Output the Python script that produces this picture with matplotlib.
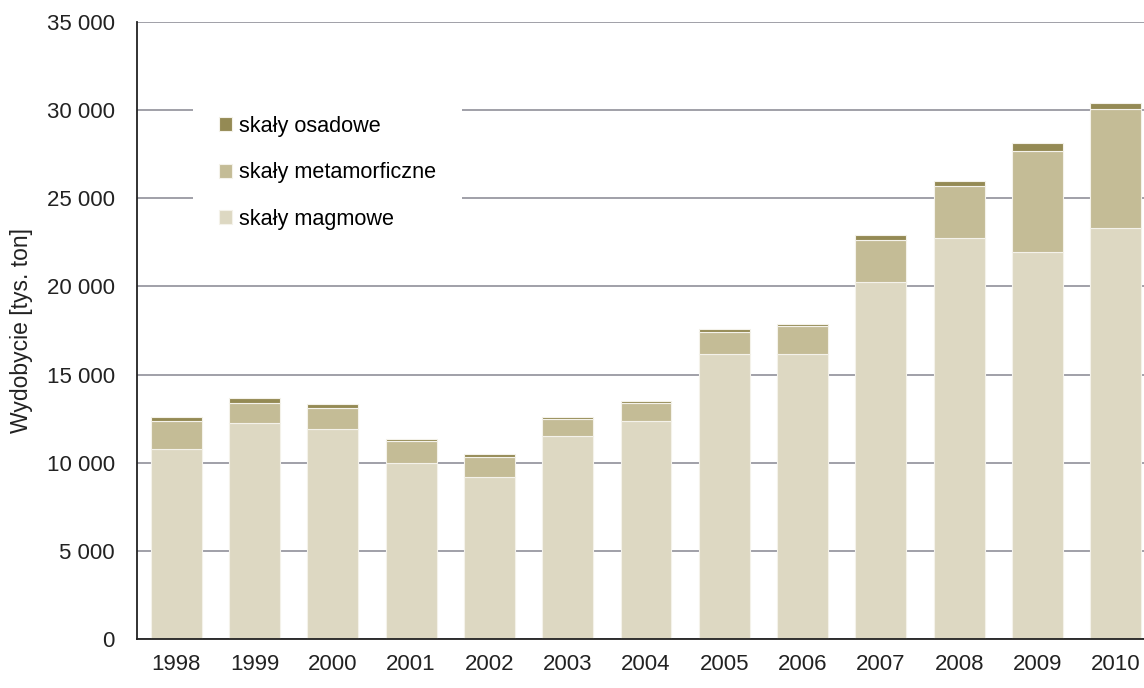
import numpy as np
import matplotlib
matplotlib.use('Agg')
from matplotlib import pyplot as plt
from matplotlib.ticker import FuncFormatter

plt.rcParams['font.family'] = ['Liberation Sans', 'DejaVu Sans']

years = ['1998', '1999', '2000', '2001', '2002', '2003', '2004',
         '2005', '2006', '2007', '2008', '2009', '2010']
magmowe = [10760, 12240, 11910, 9970, 9190, 11520, 12380,
           16190, 16190, 20250, 22750, 21950, 23320]
metamorficzne = [1600, 1150, 1210, 1260, 1140, 980, 1020,
                 1250, 1570, 2400, 2950, 5730, 6730]
osadowe = [230, 280, 210, 110, 160, 110, 115,
           130, 110, 250, 270, 440, 380]

c_mag = '#ddd8c2'
c_met = '#c4bc96'
c_osa = '#948a54'

fig = plt.figure(figsize=(11.44, 6.88), dpi=100)
ax = fig.add_axes([0.1198, 0.0712, 0.8898, 0.8968])

x = np.arange(len(years))
mag = np.array(magmowe)
met = np.array(metamorficzne)
osa = np.array(osadowe)
w = 0.65
b1 = ax.bar(x, mag, w, color=c_mag, edgecolor='#f4f2ea', linewidth=0.8, zorder=3,
            label='skały magmowe')
b2 = ax.bar(x, met, w, bottom=mag, color=c_met, edgecolor='#f4f2ea', linewidth=0.8,
            zorder=3, label='skały metamorficzne')
b3 = ax.bar(x, osa, w, bottom=mag + met, color=c_osa, edgecolor='#f4f2ea', linewidth=0.8,
            zorder=3, label='skały osadowe')

ax.set_xlim(-0.5, len(years) - 0.5)
ax.set_ylim(0, 35000)
ax.set_yticks(range(0, 35001, 5000))
ax.yaxis.set_major_formatter(FuncFormatter(lambda v, p: f'{int(v):,}'.replace(',', ' ')))
ax.set_xticks(x)
ax.set_xticklabels(years)
ax.tick_params(axis='both', length=0, labelsize=16, colors='#222222')
ax.tick_params(axis='y', pad=16)
ax.tick_params(axis='x', pad=11)

ax.grid(axis='y', color='#a0a0a8', linewidth=1.4, zorder=0)
ax.set_axisbelow(True)
for s in ['top', 'right']:
    ax.spines[s].set_visible(False)
for s in ['left', 'bottom']:
    ax.spines[s].set_color('#222222')
    ax.spines[s].set_linewidth(1.3)
    ax.spines[s].set_zorder(4)

ax.set_ylabel('Wydobycie [tys. ton]', fontsize=16.5, color='#222222', labelpad=10)

leg = ax.legend(handles=[b3, b2, b1], loc='upper left',
                bbox_to_anchor=(0.055, 0.89), fontsize=15.6,
                frameon=True, fancybox=False, edgecolor='none', framealpha=1,
                handlelength=0.62, handleheight=0.62, handletextpad=0.28,
                labelspacing=1.17, borderpad=1.2, borderaxespad=0)
leg.set_zorder(5)

fig.savefig('out.png', dpi=100)
